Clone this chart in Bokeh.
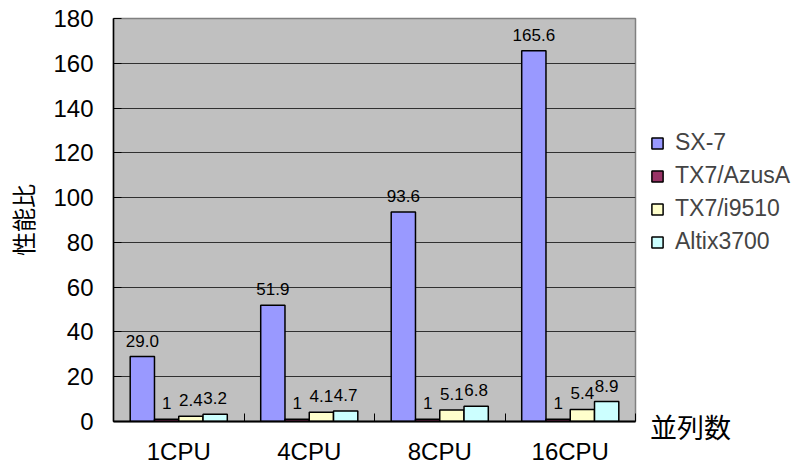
from bokeh.plotting import figure
from bokeh.models import (Range1d, FixedTicker, ColumnDataSource, Legend, LegendItem,
                          LabelSet)
from bokeh.core.properties import value
from bokeh.embed import file_html
from bokeh.resources import INLINE

# ---- data ----
categories = ["1CPU", "4CPU", "8CPU", "16CPU"]
series_names = ["SX-7", "TX7/AzusA", "TX7/i9510", "Altix3700"]
sx7 = [29.0, 51.9, 93.6, 165.6]
tx7_azusa = [1, 1, 1, 1]
tx7_i9510 = [2.4, 4.1, 5.1, 5.4]
altix3700 = [3.2, 4.7, 6.8, 8.9]
label_formats = ["{:.1f}", "{:g}", "{:.1f}", "{:.1f}"]
y_ticks = [0, 20, 40, 60, 80, 100, 120, 140, 160, 180]
y_axis_title = "性能比"
x_axis_title = "並列数"

colors = ["#9999FF", "#993366", "#FFFFCC", "#CCFFFF"]
series_values = [sx7, tx7_azusa, tx7_i9510, altix3700]

LATIN = "Liberation Sans"
CJK = "Noto Sans CJK JP"

n_cat = len(categories)
n_ser = len(series_names)
bar_w = 0.186

p = figure(frame_width=522, frame_height=403,
           x_range=Range1d(0, n_cat), y_range=Range1d(0, y_ticks[-1]),
           output_backend="svg", toolbar_location=None,
           min_border_left=113, min_border_right=177,
           min_border_top=18, min_border_bottom=45)

p.background_fill_color = "#C0C0C0"
p.border_fill_color = "white"
p.outline_line_color = "#808080"
p.outline_line_width = 1.5

items = []
for j, (name, vals, col, fmt) in enumerate(zip(series_names, series_values, colors, label_formats)):
    off = (j - (n_ser - 1) / 2) * bar_w
    xs = [i + 0.5 + off for i in range(n_cat)]
    src = ColumnDataSource(dict(x=xs, top=vals, txt=[fmt.format(v) for v in vals]))
    r = p.vbar(x="x", top="top", width=bar_w, source=src, fill_color=col,
               line_color="black", line_width=1.5)
    items.append(LegendItem(label=name, renderers=[r]))
    p.add_layout(LabelSet(x="x", y="top", text="txt", source=src,
                          text_align="center", text_baseline="alphabetic",
                          y_offset=10, text_font=value(LATIN), text_font_size="17px",
                          text_color="black"))

# grid
p.xgrid.visible = False
p.ygrid.ticker = FixedTicker(ticks=y_ticks)
p.ygrid.grid_line_color = "#303030"
p.ygrid.grid_line_width = 1

# y axis
p.yaxis.ticker = FixedTicker(ticks=y_ticks)
p.yaxis.axis_line_color = "black"
p.yaxis.axis_line_width = 1.5
p.yaxis.major_tick_in = 8
p.yaxis.major_tick_out = 0
p.yaxis.major_tick_line_color = "black"
p.yaxis.minor_tick_line_color = None
p.yaxis.major_label_text_font = LATIN
p.yaxis.major_label_text_font_size = "24px"
p.yaxis.major_label_text_color = "black"
p.yaxis.major_label_standoff = 20
p.yaxis.axis_label = y_axis_title
p.yaxis.axis_label_text_font = CJK
p.yaxis.axis_label_text_font_size = "24px"
p.yaxis.axis_label_text_font_style = "normal"
p.yaxis.axis_label_text_color = "black"
p.yaxis.axis_label_standoff = 10

# x axis: labels at category centres, ticks at category boundaries
centres = [i + 0.5 for i in range(n_cat)]
p.xaxis.ticker = FixedTicker(ticks=centres, minor_ticks=list(range(n_cat + 1)))
p.xaxis.major_label_overrides = {c: name for c, name in zip(centres, categories)}
p.xaxis.major_tick_line_color = None
p.xaxis.major_tick_in = 0
p.xaxis.major_tick_out = 0
p.xaxis.minor_tick_line_color = "black"
p.xaxis.minor_tick_in = 8
p.xaxis.minor_tick_out = 0
p.xaxis.minor_tick_line_width = 1
p.xaxis.axis_line_color = "black"
p.xaxis.axis_line_width = 2
p.xaxis.major_label_text_font = LATIN
p.xaxis.major_label_text_font_size = "24px"
p.xaxis.major_label_text_color = "black"
p.xaxis.major_label_standoff = 16

# legend (right panel); the x-axis title sits below it as the legend's title
legend = Legend(items=items, location=(15, -25))
legend.background_fill_alpha = 0
legend.border_line_color = None
legend.glyph_width = 14
legend.glyph_height = 14
legend.label_standoff = 11
legend.label_text_font = LATIN
legend.label_text_font_size = "23px"
legend.label_height = 23
legend.spacing = 6
legend.padding = 10
legend.margin = 0
legend.title = x_axis_title
legend.title_location = "below"
legend.title_standoff = 152
legend.title_text_font = CJK
legend.title_text_font_size = "27px"
legend.title_text_font_style = "normal"
legend.title_text_color = "black"
p.add_layout(legend, "right")

open("out.html", "w").write(file_html(p, INLINE))
